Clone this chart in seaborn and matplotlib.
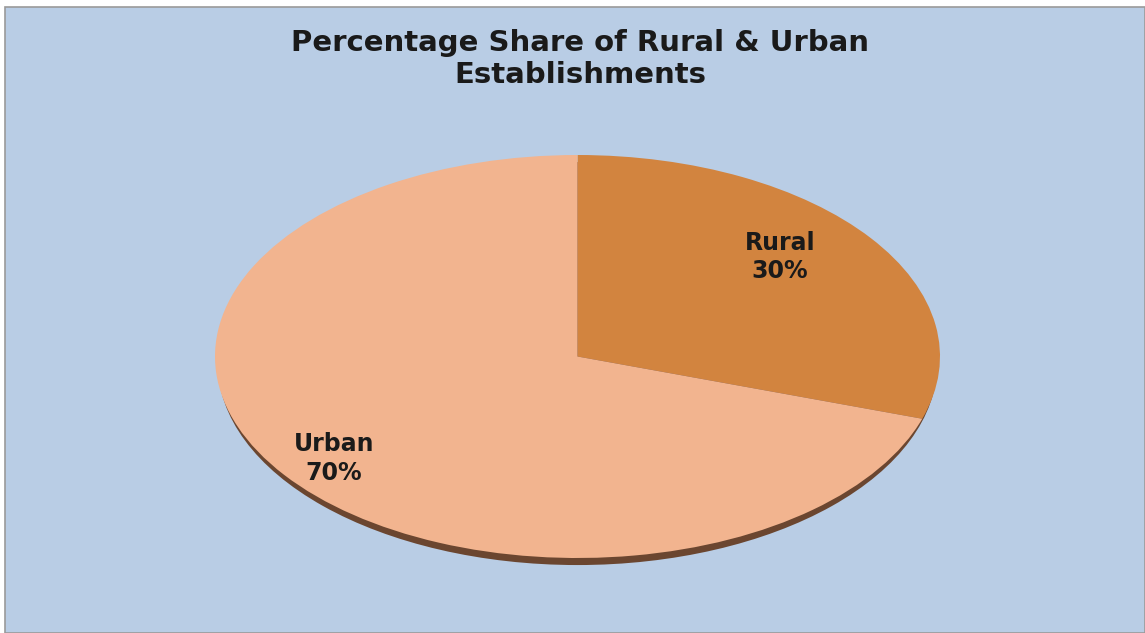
import numpy as np
import matplotlib
matplotlib.use("Agg")
import matplotlib.pyplot as plt
import matplotlib.patches as mpatches
import seaborn as sns

sns.set_theme(style="white")
plt.rcParams['font.family'] = ['DejaVu Sans']

# data
categories = ["Rural", "Urban"]
shares = [30, 70]
slice_colors = ["#D2843F", "#F2B48F"]
title = "Percentage Share of Rural & Urban\nEstablishments"

W, H = 1145, 633
fig = plt.figure(figsize=(W / 100, H / 100), dpi=100, facecolor="white")

# blue chart area with thin grey frame
bg = mpatches.Rectangle((5 / W, 0), 1 - 5 / W, 1 - 7 / H, transform=fig.transFigure,
                        facecolor="#B9CDE5", edgecolor="#9A9A9A", linewidth=1.2, zorder=-5)
fig.patches.append(bg)

# axes placed on the ellipse bounding box, aspect auto -> tilted look
left, right, top, bottom = 215, 940, 155, 558
ax = fig.add_axes([left / W, 1 - bottom / H, (right - left) / W, (bottom - top) / H])
ax.set_facecolor("none")
ax.set_zorder(2)

# shadow under the pie (thin rim at the bottom)
shadow = mpatches.Ellipse((0, -0.035), 1.985, 2.0, facecolor="#6B4630", edgecolor="none",
                          zorder=1, clip_on=False)
ax.add_patch(shadow)

wedges, _ = ax.pie(shares, colors=slice_colors, startangle=90, counterclock=False,
                   radius=1.0, wedgeprops=dict(linewidth=0, zorder=2))
ax.set_aspect("auto")
ax.set_xlim(-1, 1)
ax.set_ylim(-1, 1)
ax.axis("off")

# label placement factors (x, y) along each wedge's mid angle
label_r = {"Rural": (0.69, 0.84), "Urban": (0.83, 0.86)}
for w, name, val in zip(wedges, categories, shares):
    ang = np.deg2rad((w.theta1 + w.theta2) / 2)
    rx, ry = label_r[name]
    ax.text(rx * np.cos(ang), ry * np.sin(ang), f"{name}\n{val}%", ha="center", va="center",
            fontsize=17, fontweight="bold", color="#1A1A1A", linespacing=1.25, zorder=3)

fig.text(580 / W, 1 - 59 / H, title, ha="center", va="center", fontsize=21,
         fontweight="bold", color="#1A1A1A", linespacing=1.15)

fig.savefig("out.png", dpi=100, facecolor=fig.get_facecolor())
